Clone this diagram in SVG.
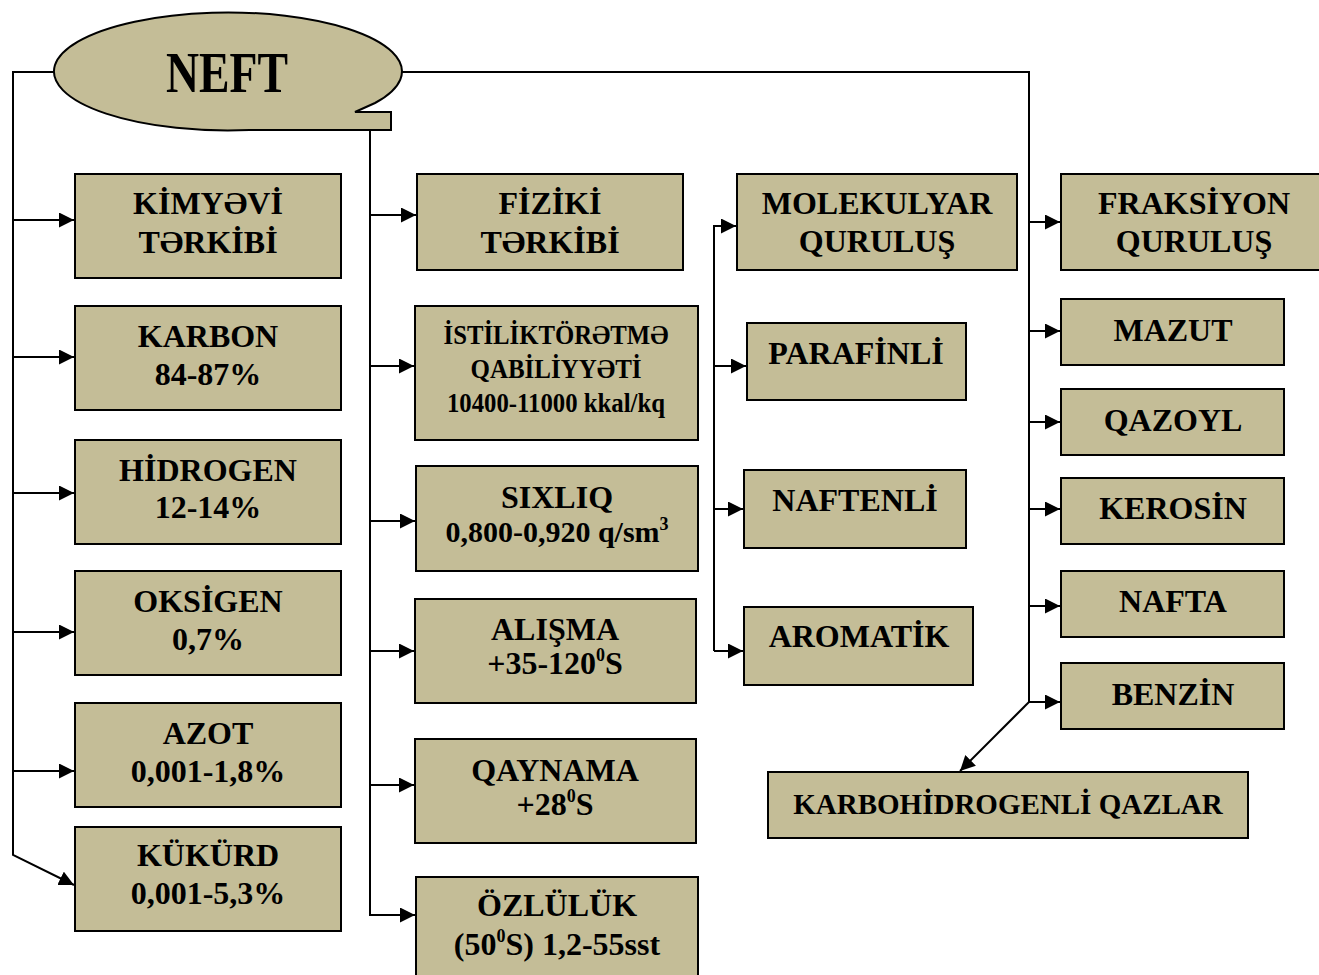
<svg xmlns="http://www.w3.org/2000/svg" width="1319" height="975" viewBox="0 0 1319 975">
<style>
.box{fill:#C4BD97;stroke:#000;stroke-width:2}
.t{font-family:"Liberation Serif","Times New Roman",serif;font-weight:bold;fill:#000;text-anchor:middle}
.a{font-size:32px}
.b{font-size:30px}
.c{font-size:28px}
.d{font-size:29px}
.sup{font-size:18px}
.ln{fill:none;stroke:#000;stroke-width:2}
</style>
<defs>
<marker id="ar" markerUnits="userSpaceOnUse" markerWidth="15" markerHeight="15" refX="15" refY="7.5" orient="auto">
<path d="M0,0 L15,7.5 L0,15 Z" fill="#000"/>
</marker>
</defs>
<rect width="1319" height="975" fill="#fff"/>
<g id="connectors">
<path class="ln" d="M54,72 H13 V855 L74,885" marker-end="url(#ar)"/>
<path class="ln" d="M13,220 H74" marker-end="url(#ar)"/>
<path class="ln" d="M13,357 H74" marker-end="url(#ar)"/>
<path class="ln" d="M13,493 H74" marker-end="url(#ar)"/>
<path class="ln" d="M13,632 H74" marker-end="url(#ar)"/>
<path class="ln" d="M13,771 H74" marker-end="url(#ar)"/>
<path class="ln" d="M370,130 V915 H415" marker-end="url(#ar)"/>
<path class="ln" d="M370,215 H416" marker-end="url(#ar)"/>
<path class="ln" d="M370,366 H414" marker-end="url(#ar)"/>
<path class="ln" d="M370,521 H415" marker-end="url(#ar)"/>
<path class="ln" d="M370,651 H414" marker-end="url(#ar)"/>
<path class="ln" d="M370,785 H414" marker-end="url(#ar)"/>
<path class="ln" d="M714,651 V226 H736" marker-end="url(#ar)"/>
<path class="ln" d="M714,366 H746" marker-end="url(#ar)"/>
<path class="ln" d="M714,509 H743" marker-end="url(#ar)"/>
<path class="ln" d="M714,651 H743" marker-end="url(#ar)"/>
<path class="ln" d="M401,72 H1029 V702 H1060" marker-end="url(#ar)"/>
<path class="ln" d="M1029,222 H1060" marker-end="url(#ar)"/>
<path class="ln" d="M1029,331 H1060" marker-end="url(#ar)"/>
<path class="ln" d="M1029,422 H1060" marker-end="url(#ar)"/>
<path class="ln" d="M1029,509 H1060" marker-end="url(#ar)"/>
<path class="ln" d="M1029,606 H1060" marker-end="url(#ar)"/>
<path class="ln" d="M1029,702 L960,771" marker-end="url(#ar)"/>
</g>
<g id="neft">
<path class="box" d="M355,112 H391 V130 H249.6 A174,59 0 1 1 375,103 Z"/>
<text class="t" x="227" y="92" font-size="57" textLength="122" lengthAdjust="spacingAndGlyphs">NEFT</text>
</g>
<g id="kimyevi"><rect class="box" x="75" y="174" width="266" height="104"/><text class="t a" x="208" y="214">KİMYƏVİ</text><text class="t a" x="208" y="253">TƏRKİBİ</text></g>
<g id="karbon"><rect class="box" x="75" y="306" width="266" height="104"/><text class="t a" x="208" y="347">KARBON</text><text class="t a" x="208" y="385">84-87%</text></g>
<g id="hidrogen"><rect class="box" x="75" y="440" width="266" height="104"/><text class="t a" x="208" y="481">HİDROGEN</text><text class="t a" x="208" y="518">12-14%</text></g>
<g id="oksigen"><rect class="box" x="75" y="571" width="266" height="104"/><text class="t a" x="208" y="612">OKSİGEN</text><text class="t a" x="208" y="650">0,7%</text></g>
<g id="azot"><rect class="box" x="75" y="703" width="266" height="104"/><text class="t a" x="208" y="744">AZOT</text><text class="t a" x="208" y="782">0,001-1,8%</text></g>
<g id="kukurd"><rect class="box" x="75" y="827" width="266" height="104"/><text class="t a" x="208" y="866">KÜKÜRD</text><text class="t a" x="208" y="904">0,001-5,3%</text></g>
<g id="fiziki"><rect class="box" x="417" y="174" width="266" height="96"/><text class="t a" x="550" y="214">FİZİKİ</text><text class="t a" x="550" y="253">TƏRKİBİ</text></g>
<g id="istilik"><rect class="box" x="415" y="306" width="283" height="134"/><text class="t c" x="556" y="344" textLength="225" lengthAdjust="spacingAndGlyphs">İSTİLİKTÖRƏTMƏ</text><text class="t c" x="556" y="378" textLength="171" lengthAdjust="spacingAndGlyphs">QABİLİYYƏTİ</text><text class="t c" x="556" y="412" textLength="218" lengthAdjust="spacingAndGlyphs">10400-11000 kkal/kq</text></g>
<g id="sixliq"><rect class="box" x="416" y="466" width="282" height="105"/><text class="t a" x="557" y="508">SIXLIQ</text><text class="t b" x="557" y="542">0,800-0,920 q/sm<tspan class="sup" dy="-12">3</tspan></text></g>
<g id="alisma"><rect class="box" x="415" y="599" width="281" height="104"/><text class="t a" x="555" y="640">ALIŞMA</text><text class="t a" x="555" y="674">+35-120<tspan class="sup" dy="-13">0</tspan><tspan dy="13">S</tspan></text></g>
<g id="qaynama"><rect class="box" x="415" y="739" width="281" height="104"/><text class="t a" x="555" y="781">QAYNAMA</text><text class="t a" x="555" y="815">+28<tspan class="sup" dy="-13">0</tspan><tspan dy="13">S</tspan></text></g>
<g id="ozluluk"><rect class="box" x="416" y="877" width="282" height="110"/><text class="t a" x="557" y="916">ÖZLÜLÜK</text><text class="t a" x="557" y="955">(50<tspan class="sup" dy="-13">0</tspan><tspan dy="13">S) 1,2-55sst</tspan></text></g>
<g id="molekulyar"><rect class="box" x="737" y="174" width="280" height="96"/><text class="t a" x="877" y="214">MOLEKULYAR</text><text class="t a" x="877" y="252">QURULUŞ</text></g>
<g id="parafinli"><rect class="box" x="747" y="323" width="219" height="77"/><text class="t a" x="856" y="364">PARAFİNLİ</text></g>
<g id="naftenli"><rect class="box" x="744" y="470" width="222" height="78"/><text class="t a" x="855" y="511">NAFTENLİ</text></g>
<g id="aromatik"><rect class="box" x="744" y="607" width="229" height="78"/><text class="t a" x="859" y="647">AROMATİK</text></g>
<g id="fraksiyon"><rect class="box" x="1061" y="174" width="260" height="96"/><text class="t a" x="1194" y="214">FRAKSİYON</text><text class="t a" x="1194" y="252">QURULUŞ</text></g>
<g id="mazut"><rect class="box" x="1061" y="299" width="223" height="66"/><text class="t a" x="1173" y="341">MAZUT</text></g>
<g id="qazoyl"><rect class="box" x="1061" y="389" width="223" height="66"/><text class="t a" x="1173" y="431">QAZOYL</text></g>
<g id="kerosin"><rect class="box" x="1061" y="478" width="223" height="66"/><text class="t a" x="1173" y="519">KEROSİN</text></g>
<g id="nafta"><rect class="box" x="1061" y="571" width="223" height="66"/><text class="t a" x="1173" y="612">NAFTA</text></g>
<g id="benzin"><rect class="box" x="1061" y="663" width="223" height="66"/><text class="t a" x="1173" y="705">BENZİN</text></g>
<g id="karbohidrogenli"><rect class="box" x="768" y="772" width="480" height="66"/><text class="t d" x="1008" y="814">KARBOHİDROGENLİ QAZLAR</text></g>
</svg>
